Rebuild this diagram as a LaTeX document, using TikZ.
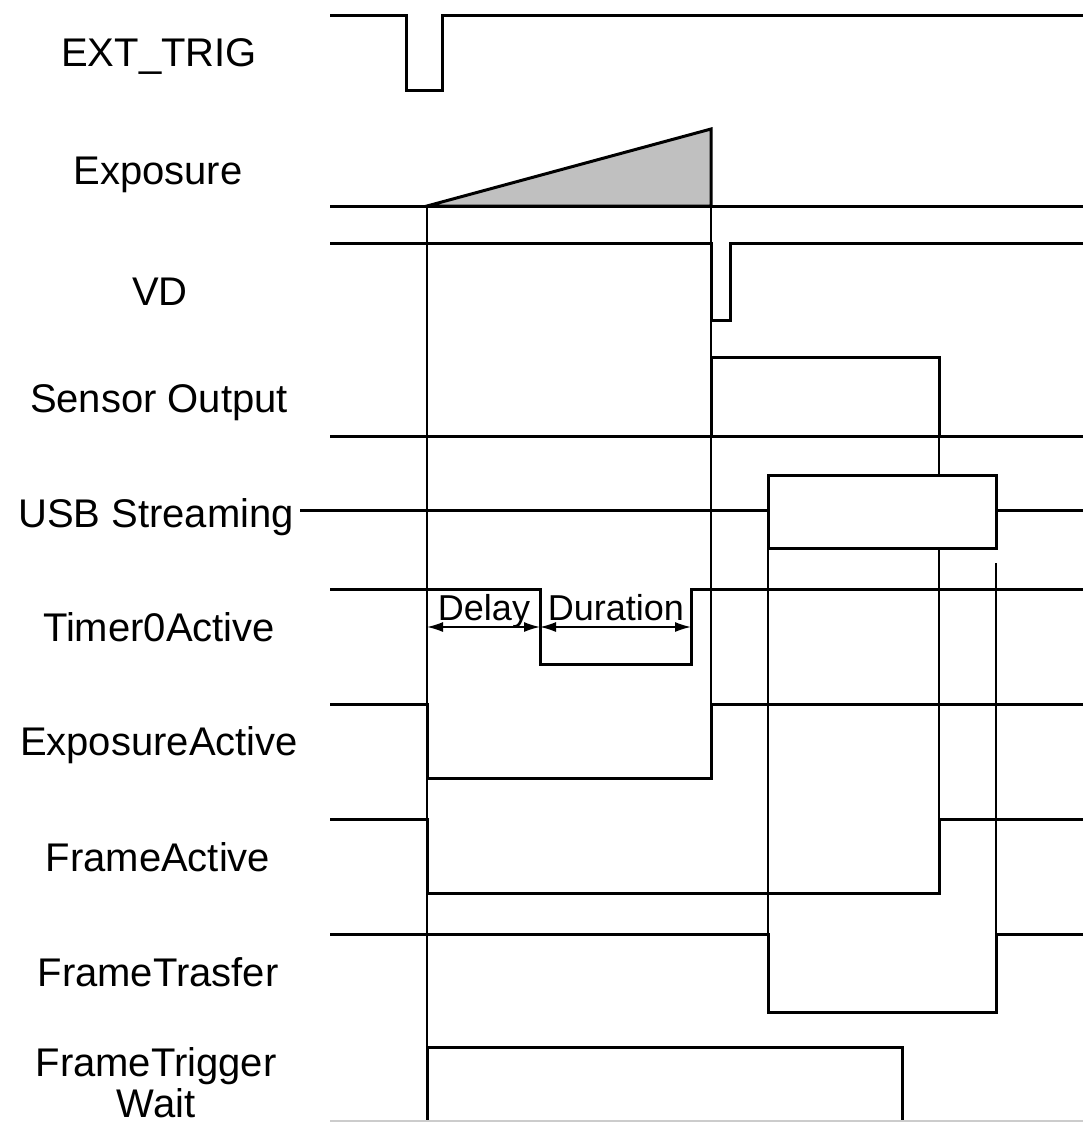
\documentclass[tikz,border=0pt]{standalone}
\usepackage{fontspec}
\setmainfont{Liberation Sans}
\usetikzlibrary{arrows.meta}
\definecolor{expfill}{RGB}{192,192,192}
\begin{document}
\begin{tikzpicture}[x=1pt,y=-1pt,
  sig/.style={line width=3pt},
  guide/.style={line width=1.3pt},
  lbl/.style={font=\fontsize{40}{46}\selectfont, anchor=base, inner sep=0pt},
  dimarrow/.style={line width=1.5pt, {Latex[length=16pt,width=10pt]}-{Latex[length=16pt,width=10pt]}},
  dimlbl/.style={font=\fontsize{36}{42}\selectfont, anchor=base, inner sep=0pt}]
\useasboundingbox (0,0) rectangle (1083,1122);

% guide lines
\draw[guide] (427,206) -- (427,1122);
\draw[guide] (711,206) -- (711,704);
\draw[guide] (939,436) -- (939,819);
\draw[guide] (768,548) -- (768,934);
\draw[guide] (996,563) -- (996,934);

% EXT_TRIG
\draw[sig] (330,15) -- (406,15) -- (406,90) -- (442,90) -- (442,15) -- (1083,15);
% Exposure
\draw[sig, fill=expfill] (427,206) -- (711,129) -- (711,206) -- cycle;
\draw[sig] (330,206) -- (1083,206);
% VD
\draw[sig] (330,243) -- (711,243) -- (711,320) -- (730,320) -- (730,243) -- (1083,243);
% Sensor Output
\draw[sig] (330,436) -- (1083,436);
\draw[sig] (711,436) -- (711,357) -- (939,357) -- (939,436);
% USB Streaming
\draw[sig] (300,510) -- (768,510);
\draw[sig, fill=white] (768,475) rectangle (996,548);
\draw[sig] (996,510) -- (1083,510);
% Timer0Active
\draw[sig] (330,589) -- (540,589) -- (540,664) -- (691,664) -- (691,589) -- (1083,589);
% ExposureActive
\draw[sig] (330,704) -- (427,704) -- (427,778) -- (711,778) -- (711,704) -- (1083,704);
% FrameActive
\draw[sig] (330,819) -- (427,819) -- (427,893) -- (939,893) -- (939,819) -- (1083,819);
% FrameTrasfer
\draw[sig] (330,934) -- (768,934) -- (768,1012) -- (996,1012) -- (996,934) -- (1083,934);
% FrameTriggerWait
\draw[sig] (427,1122) -- (427,1047) -- (902,1047) -- (902,1122);
\draw[line width=1.5pt, gray!40] (330,1121.2) -- (1083,1121.2);

% Delay / Duration
\coordinate (dA) at (427,627);
\coordinate (dB) at (540,627);
\coordinate (dC) at (691,627);
\draw[dimarrow] (dA) -- (dB);
\draw[dimarrow] (dB) -- (dC);
\node[dimlbl] (delay) at (484,620) {Delay};
\node[dimlbl] (duration) at (616,620) {Duration};

% labels
\node[lbl] (l1) at (159,66) {EXT\_TRIG};
\node[lbl] (l2) at (158,184) {Exposure};
\node[lbl] (l3) at (160,305) {VD};
\node[lbl] (l4) at (159,412) {Sensor Output};
\node[lbl] (l5) at (156,527) {USB Streaming};
\node[lbl] (l6) at (159,641) {Timer0Active};
\node[lbl] (l7) at (159,755) {ExposureActive};
\node[lbl] (l8) at (158,871) {FrameActive};
\node[lbl] (l9) at (158,986) {FrameTrasfer};
\node[lbl] (l10) at (156,1076) {FrameTrigger};
\node[lbl] (l11) at (156,1117) {Wait};
\end{tikzpicture}
\end{document}
